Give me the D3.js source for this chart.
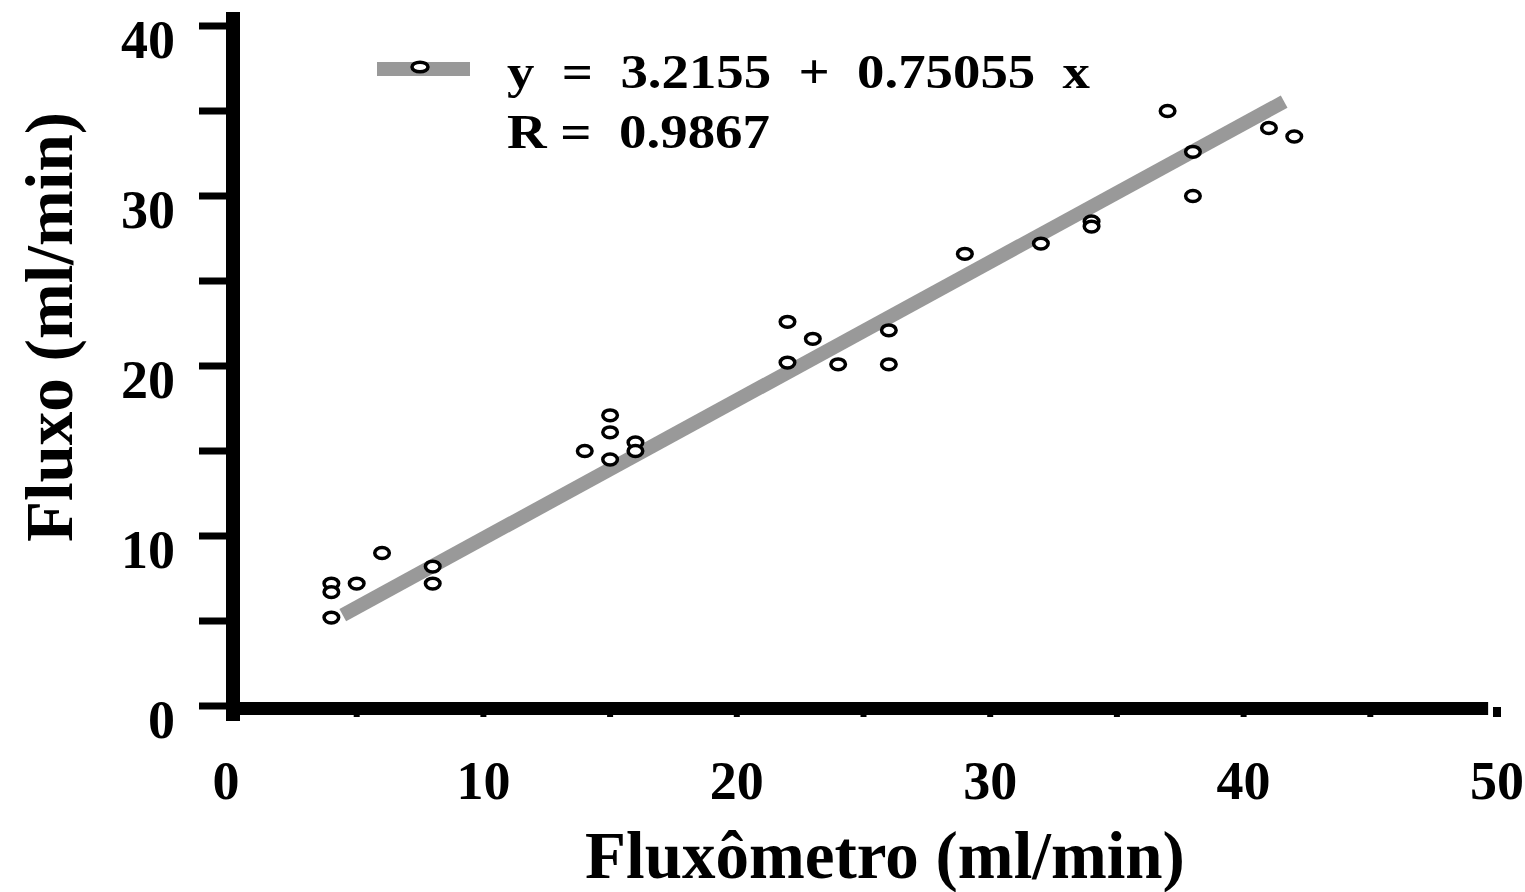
<!DOCTYPE html>
<html>
<head>
<meta charset="utf-8">
<script src="https://cdn.jsdelivr.net/npm/d3@7"></script>
<style>
html,body{margin:0;padding:0;background:#fff;}
svg{display:block;}
text{font-family:"Liberation Serif","Times New Roman",serif;font-weight:bold;fill:#000;}
</style>
</head>
<body>
<svg id="chart" width="1525" height="892"></svg>
<script>
// Data
const fluxometro = [4,4,4,5,6,8,8,14,15,15,15,16,16,22,22,23,24,26,26,29,32,34,34,37,38,38,41,42];
const fluxo      = [7.2,6.7,5.2,7.2,9.0,8.2,7.2,15.0,17.1,16.1,14.5,15.5,15.0,22.6,20.2,21.6,20.1,22.1,20.1,26.6,27.2,28.5,28.2,35.0,32.6,30.0,34.0,33.5];
// fitted line as drawn (end points)
const fitX = [4.45, 41.6];
const fitY = [5.35, 35.55];
const xTicks = [0,10,20,30,40,50];
const xMinorTicks = [5,10,15,20,25,30,35,40,45];
const yTicks = [0,10,20,30,40];
const yAllTicks = [0,5,10,15,20,25,30,35,40];
const legendLines = ["y  =  3.2155  +  0.75055  x", "R =  0.9867"];
const xTitle = "Fluxômetro (ml/min)";
const yTitle = "Fluxo (ml/min)";

const svg = d3.select("#chart");
const x = d3.scaleLinear().domain([0,50]).range([230,1497]);
const y = d3.scaleLinear().domain([0,40]).range([706,26]);
const gray = "#999999";

// fit line
svg.append("line")
  .attr("x1", x(fitX[0])).attr("y1", y(fitY[0]))
  .attr("x2", x(fitX[1])).attr("y2", y(fitY[1]))
  .attr("stroke", gray).attr("stroke-width", 14);

// y axis bar
svg.append("rect").attr("x", 226).attr("y", 12).attr("width", 14).attr("height", 709).attr("fill","#000");
// y ticks (left side)
svg.selectAll(".yt").data(yAllTicks).enter().append("rect")
  .attr("x", 199).attr("y", d => y(d) - 3.5).attr("width", 28).attr("height", 7).attr("fill","#000");
// x axis bar
svg.append("rect").attr("x", 226).attr("y", y(0) - 4).attr("width", x(49.65) - 226).attr("height", 13).attr("fill","#000");
// x minor ticks (small marks below bar)
svg.selectAll(".xt").data(xMinorTicks).enter().append("rect")
  .attr("x", d => x(d) - 3).attr("y", y(0) + 8).attr("width", 6).attr("height", 3).attr("fill","#000");
// end tick at 50
svg.append("rect").attr("x", x(50) - 4).attr("y", y(0) + 1).attr("width", 8).attr("height", 10).attr("fill","#000");

// tick labels
svg.selectAll(".ytl").data(yTicks).enter().append("text")
  .attr("x", 175).attr("y", d => y(d) + 32)
  .attr("text-anchor","end").attr("font-size", 54).text(d => d);
svg.selectAll(".xtl").data(xTicks).enter().append("text")
  .attr("x", d => x(d) - (d === 0 ? 4 : 0)).attr("y", 799)
  .attr("text-anchor","middle").attr("font-size", 54).text(d => d);

// axis titles
svg.append("text").attr("x", 885).attr("y", 878).attr("text-anchor","middle")
  .attr("font-size", 67).text(xTitle);
svg.append("text").attr("transform","translate(72,327) rotate(-90)").attr("text-anchor","middle")
  .attr("font-size", 67).text(yTitle);

// points
svg.selectAll(".pt").data(fluxometro.map((d,i)=>[d, fluxo[i]])).enter().append("ellipse")
  .attr("cx", d => x(d[0])).attr("cy", d => y(d[1]))
  .attr("rx", 7.3).attr("ry", 5.4)
  .attr("fill","#fff").attr("stroke","#000").attr("stroke-width", 3.5);

// legend
svg.append("line").attr("x1", 377).attr("x2", 470).attr("y1", 69).attr("y2", 69)
  .attr("stroke", gray).attr("stroke-width", 14);
svg.append("ellipse").attr("cx", 420).attr("cy", 67).attr("rx", 8).attr("ry", 4.8)
  .attr("fill","#fff").attr("stroke","#000").attr("stroke-width", 3.5);
const legLens = [583, 263];
const legBase = [88, 148];
legendLines.forEach((t,i) => {
  svg.append("text").attr("x", 507).attr("y", legBase[i])
    .attr("font-size", 48).style("white-space","pre")
    .attr("textLength", legLens[i]).attr("lengthAdjust","spacingAndGlyphs")
    .text(t);
});
</script>
</body>
</html>
